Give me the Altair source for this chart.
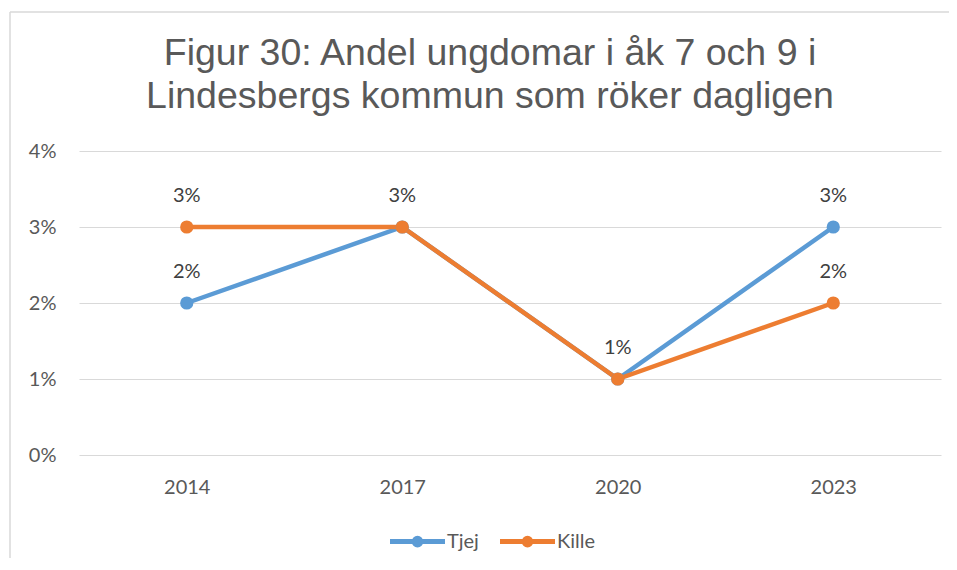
import altair as alt
import pandas as pd

years = ["2014", "2017", "2020", "2023"]
tjej = [2, 3, 1, 3]
kille = [3, 3, 1, 2]
series = ["Tjej", "Kille"]
colors = ["#5B9BD5", "#ED7D31"]
title_lines = ["Figur 30: Andel ungdomar i åk 7 och 9 i", "Lindesbergs kommun som röker dagligen"]

rows = []
for name, vals, other in zip(series, [tjej, kille], [kille, None]):
    for i, (yr, v) in enumerate(zip(years, vals)):
        # a label hidden under an identical label of the other series is left blank
        same = other is not None and other[i] == v
        rows.append({"År": yr, "Serie": name, "Andel": v,
                     "Etikett": "" if same else f"{v}%"})
df = pd.DataFrame(rows)

TXT = "#595959"
FONT = "Lato"

x = alt.X("År:N", title=None, sort=years,
          scale=alt.Scale(type="point", padding=0.5),
          axis=alt.Axis(labelAngle=0, ticks=False, domain=False, grid=False,
                        labelPadding=22, labelFont=FONT, labelFontSize=20,
                        labelColor=TXT))
y = alt.Y("Andel:Q", title=None,
          scale=alt.Scale(domain=[0, 4], nice=False, zero=True),
          axis=alt.Axis(values=[0, 1, 2, 3, 4], labelExpr="datum.value + '%'",
                        ticks=False, tickSize=0, domain=False, grid=True,
                        gridColor="#D9D9D9", gridWidth=1.2, labelPadding=23,
                        labelFont=FONT, labelFontSize=20, labelColor=TXT))

legend_symbol = "M-2.5,0L2.5,0M-0.3,0A0.3,0.3,0,1,1,0.3,0A0.3,0.3,0,1,1,-0.3,0Z"
color_leg = alt.Color("Serie:N", sort=series,
                      scale=alt.Scale(domain=series, range=colors),
                      legend=alt.Legend(orient="none", legendX=325, legendY=377,
                                        direction="horizontal", title=None,
                                        symbolType=legend_symbol, symbolSize=484,
                                        symbolStrokeWidth=5, labelFont=FONT,
                                        labelFontSize=20, labelColor=TXT,
                                        labelOffset=16, columnPadding=11,
                                        padding=0))
color_noleg = alt.Color("Serie:N", sort=series,
                        scale=alt.Scale(domain=series, range=colors), legend=None)

base = alt.Chart(df)
lines = base.mark_line(strokeWidth=4.5).encode(x=x, y=y, color=color_leg,
                                                 order=alt.Order("Serie:N"))
points = base.mark_circle(size=175, opacity=1).encode(x=x, y=y, color=color_noleg)
labels = base.mark_text(baseline="alphabetic", dy=-25, font=FONT, fontSize=20,
                        color="#404040").encode(x=x, y=y, text="Etikett:N")

frame_df = pd.DataFrame({"k": [0]})
left_border = alt.Chart(frame_df).mark_rule(color="#D9D9D9", strokeWidth=1.5).encode(
    x=alt.value(-69), y=alt.value(-139), y2=alt.value(420))
top_border = alt.Chart(frame_df).mark_rule(color="#D9D9D9", strokeWidth=1.5).encode(
    x=alt.value(-69), x2=alt.value(880), y=alt.value(-139))

chart = alt.layer(left_border, top_border, lines, points, labels).properties(
    width=862, height=304,
    autosize=alt.AutoSizeParams(type="none"),
    padding={"left": 71, "top": 143, "right": 8, "bottom": 103},
    title=alt.TitleParams(text=title_lines, font="Liberation Sans", fontSize=37.5,
                          fontWeight="normal", color=TXT, lineHeight=43,
                          anchor="middle", frame="group", dx=-20, dy=104,
                          offset=0),
    background="white",
).configure_view(stroke=None)

chart.save("out.html", embed_options={"renderer": "svg", "actions": False})
